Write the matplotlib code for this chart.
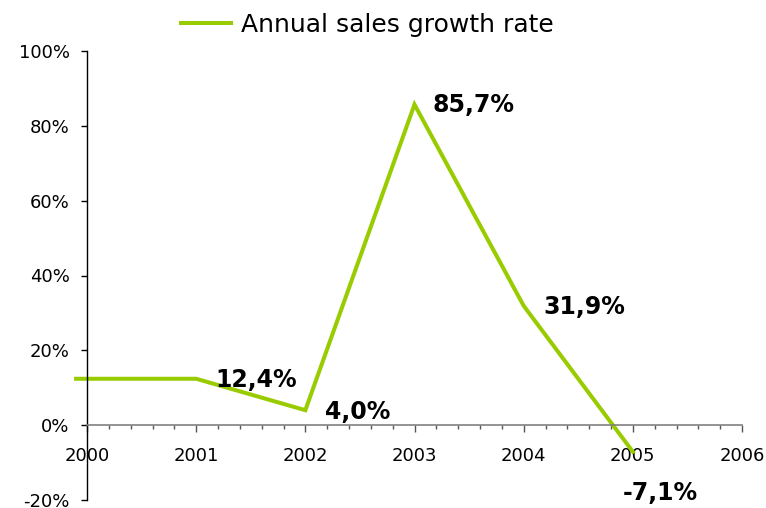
import matplotlib
matplotlib.use("Agg")
import matplotlib.pyplot as plt
from matplotlib.ticker import MultipleLocator, FuncFormatter

# Annual sales growth rate, %
years = [1999.9, 2001, 2002, 2003, 2004, 2005]
growth = [12.4, 12.4, 4.0, 85.7, 31.9, -7.1]
label_years = [2001, 2002, 2003, 2004, 2005]
label_values = [12.4, 4.0, 85.7, 31.9, -7.1]
label_offsets = [(14, -1), (14, -1), (13, 0), (14, -1), (-7, -30)]
series_name = "Annual sales growth rate"

GREEN = "#99CC00"

plt.rcParams["font.family"] = ["DejaVu Sans"]

fig = plt.figure(figsize=(7.66, 5.08), dpi=100)
ax = fig.add_axes([87 / 766, 1 - 500 / 508, (742 - 87) / 766, (500 - 51) / 508])

line, = ax.plot(years, growth, color=GREEN, lw=2.9, clip_on=False,
                solid_joinstyle="miter", label=series_name)

for x, v, (dx, dy) in zip(label_years, label_values, label_offsets):
    txt = f"{v:.1f}%".replace(".", ",")
    ax.annotate(txt, (x, v), xytext=(dx, dy), textcoords="offset points",
                ha="left", va="center", fontsize=17, fontweight="bold",
                color="black")

ax.set_xlim(2000, 2006)
ax.set_ylim(-20, 100)

for s in ("top", "right"):
    ax.spines[s].set_visible(False)
ax.spines["left"].set_color("black")
ax.spines["left"].set_linewidth(1.0)
ax.spines["bottom"].set_position(("data", 0))
ax.spines["bottom"].set_color("#808080")
ax.spines["bottom"].set_linewidth(1.2)

ax.xaxis.set_major_locator(MultipleLocator(1))
ax.xaxis.set_minor_locator(MultipleLocator(0.2))
ax.xaxis.set_major_formatter(FuncFormatter(lambda v, p: f"{int(round(v))}"))
ax.yaxis.set_major_locator(MultipleLocator(20))
ax.yaxis.set_major_formatter(FuncFormatter(lambda v, p: f"{int(round(v))}%"))

ax.tick_params(axis="x", which="major", direction="out", length=5, width=1,
               color="#555555", labelsize=13, pad=11)
ax.tick_params(axis="x", which="minor", direction="out", length=3, width=1,
               color="#555555")
ax.tick_params(axis="y", which="major", direction="out", length=4.5, width=1,
               color="black", labelsize=13, pad=8)

fig.legend(handles=[line], loc="center", bbox_to_anchor=(367 / 766, 1 - 25 / 508),
           frameon=False, fontsize=18, handlelength=2.0, handletextpad=0.4,
           borderaxespad=0)

fig.savefig("out.png", dpi=100)
